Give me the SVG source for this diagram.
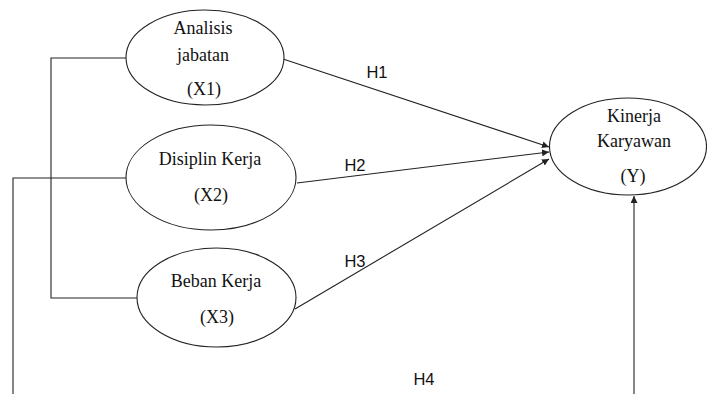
<svg xmlns="http://www.w3.org/2000/svg" width="707" height="394" viewBox="0 0 707 394">
<style>
.n{fill:#fff;stroke:#222;stroke-width:1.1}
.t{font-family:"Liberation Serif","Times New Roman",serif;font-size:18px;fill:#111;text-anchor:middle}
.c{fill:none;stroke:#222;stroke-width:1.1}
.h{font-family:"Liberation Sans",Arial,sans-serif;font-size:16.5px;fill:#111;text-anchor:middle}
</style>
<defs>
<marker id="ah" viewBox="0 0 10 10" refX="10" refY="5" markerWidth="7" markerHeight="7" markerUnits="userSpaceOnUse" orient="auto">
<path d="M0,0 L10,5 L0,10 z" fill="#222"/>
</marker>
</defs>
<rect width="707" height="394" fill="#fff"/>
<g id="connectors">
<polyline class="c" points="126,58 51,58 51,298 137,298"/>
<polyline class="c" points="126,178 13,178 13,394"/>
<line class="c" x1="280" y1="58" x2="549" y2="147" marker-end="url(#ah)"/>
<line class="c" x1="297" y1="183" x2="549" y2="152" marker-end="url(#ah)"/>
<line class="c" x1="295" y1="309" x2="549" y2="159" marker-end="url(#ah)"/>
<line class="c" x1="634" y1="394" x2="634" y2="196" marker-end="url(#ah)"/>
<text class="h" x="377" y="78">H1</text>
<text class="h" x="355" y="171">H2</text>
<text class="h" x="355" y="267">H3</text>
<text class="h" x="424" y="385">H4</text>
</g>
<g id="X1">
<ellipse class="n" cx="205" cy="57.5" rx="79" ry="47.5"/>
<text class="t" x="203" y="34">Analisis</text>
<text class="t" x="203" y="61">jabatan</text>
<text class="t" x="204" y="95">(X1)</text>
</g>
<g id="X2">
<ellipse class="n" cx="211" cy="177.5" rx="85" ry="52.5"/>
<text class="t" x="210" y="165">Disiplin Kerja</text>
<text class="t" x="211" y="201">(X2)</text>
</g>
<g id="X3">
<ellipse class="n" cx="216.5" cy="297.5" rx="79.5" ry="49.5"/>
<text class="t" x="216" y="287">Beban Kerja</text>
<text class="t" x="217" y="323">(X3)</text>
</g>
<g id="Y">
<ellipse class="n" cx="628" cy="146.5" rx="78.5" ry="48.5"/>
<text class="t" x="634" y="122">Kinerja</text>
<text class="t" x="634" y="147">Karyawan</text>
<text class="t" x="633" y="182">(Y)</text>
</g>
</svg>
